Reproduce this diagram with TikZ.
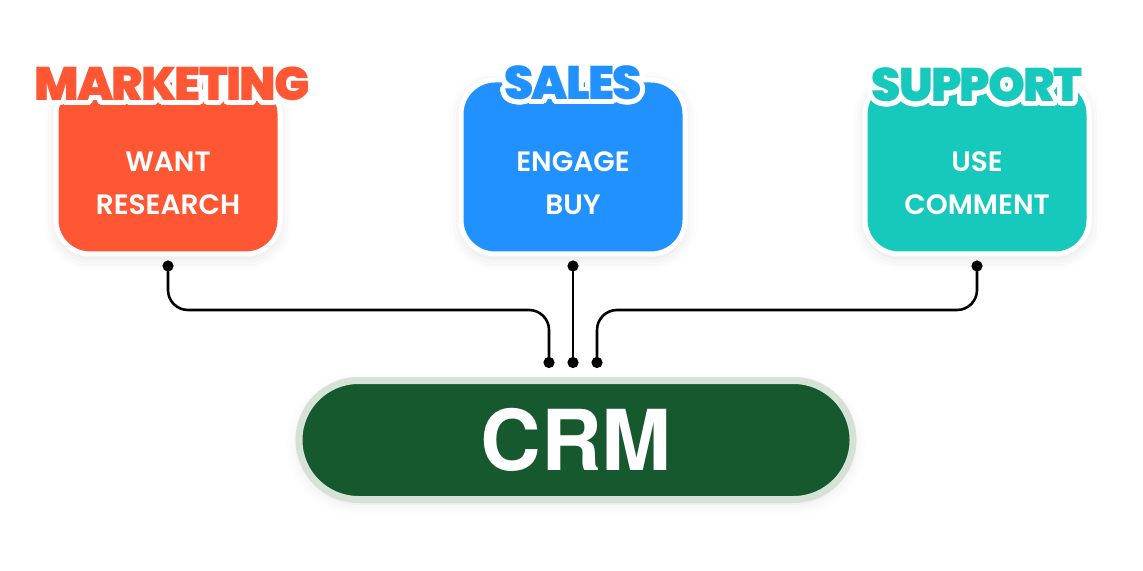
\documentclass[tikz,border=0pt]{standalone}
\usepackage{fontspec}
\setmainfont{Poppins}
\newfontfamily\heavyfont{Poppins Black}[LetterSpace=-4]
\newfontfamily\semifont{Poppins SemiBold}
\newfontfamily\crmfont{TeX Gyre Heros}
\usepackage{contour}
\contourlength{2.4pt}
\contournumber{32}
\usetikzlibrary{positioning, arrows.meta, calc, shadows.blur}

\definecolor{mktred}{RGB}{255,87,51}
\definecolor{salesblue}{RGB}{33,145,255}
\definecolor{suppteal}{RGB}{23,201,189}
\definecolor{crmgreen}{RGB}{23,89,46}
\definecolor{crmedge}{RGB}{215,226,214}

\begin{document}
\begin{tikzpicture}[
  x=0.5pt, y=-0.5pt,
  card/.style={draw=white, line width=2.5pt, rounded corners=17pt, minimum width=112pt, minimum height=87pt,
               blur shadow={shadow xshift=0pt, shadow yshift=-2pt, shadow opacity=12, shadow blur radius=6pt}},
  body/.style={text=white, font=\semifont\fontsize{14}{21.5}\selectfont, align=center},
  head/.style={font=\heavyfont\fontsize{23.5}{24}\selectfont, inner sep=0pt},
  hub/.style ={draw=crmedge, fill=crmgreen, line width=3.5pt, rounded corners=29.7pt, minimum width=277pt,
               minimum height=59.5pt, text=white, font=\crmfont\bfseries\fontsize{42}{42}\selectfont,
               blur shadow={shadow xshift=0pt, shadow yshift=-2pt, shadow opacity=10, shadow blur radius=6pt}},
  wire/.style={{Circle[length=5.5pt]}-{Circle[length=5.5pt]}, line width=1.3pt, rounded corners=10pt},
]
\useasboundingbox (0,0) rectangle (1143,571);

% three teams
\node[card, fill=mktred]    (mkt)   at (168,167) {};
\node[card, fill=salesblue] (sales) at (573,167) {};
\node[card, fill=suppteal]  (supp)  at (977,167) {};

\node[body] (mktB)   at ([yshift=-8pt]mkt.center)   {WANT\\RESEARCH};
\node[body] (salesB) at ([yshift=-8pt]sales.center) {ENGAGE\\BUY};
\node[body] (suppB)  at ([yshift=-8pt]supp.center)  {USE\\COMMENT};

\node[head, text=mktred]    (mktT)   at ([xshift=2pt, yshift=-4.5pt]mkt.north) {\contour{white}{MARKETING}};
\node[head, text=salesblue] (salesT) at ([yshift=-4pt]sales.north)             {\contour{white}{SALES}};
\node[head, text=suppteal]  (suppT)  at ([yshift=-5pt]supp.north)              {\contour{white}{SUPPORT}};

% hub
\node[hub] (crm) at (576,440) {CRM};

\coordinate (inB) at ([yshift=4.5pt]crm.north -| sales.south);
\coordinate (inA) at ([xshift=-12pt]inB);
\coordinate (inC) at ([xshift=12pt]inB);

\draw[wire] ([yshift=-2pt]mkt.south) |- ([yshift=29pt]inA) -- (inA);
\draw[wire] ([yshift=-2pt]sales.south) -- (inB);
\draw[wire] ([yshift=-2pt]supp.south) |- ([yshift=29pt]inC) -- (inC);
\end{tikzpicture}
\end{document}
